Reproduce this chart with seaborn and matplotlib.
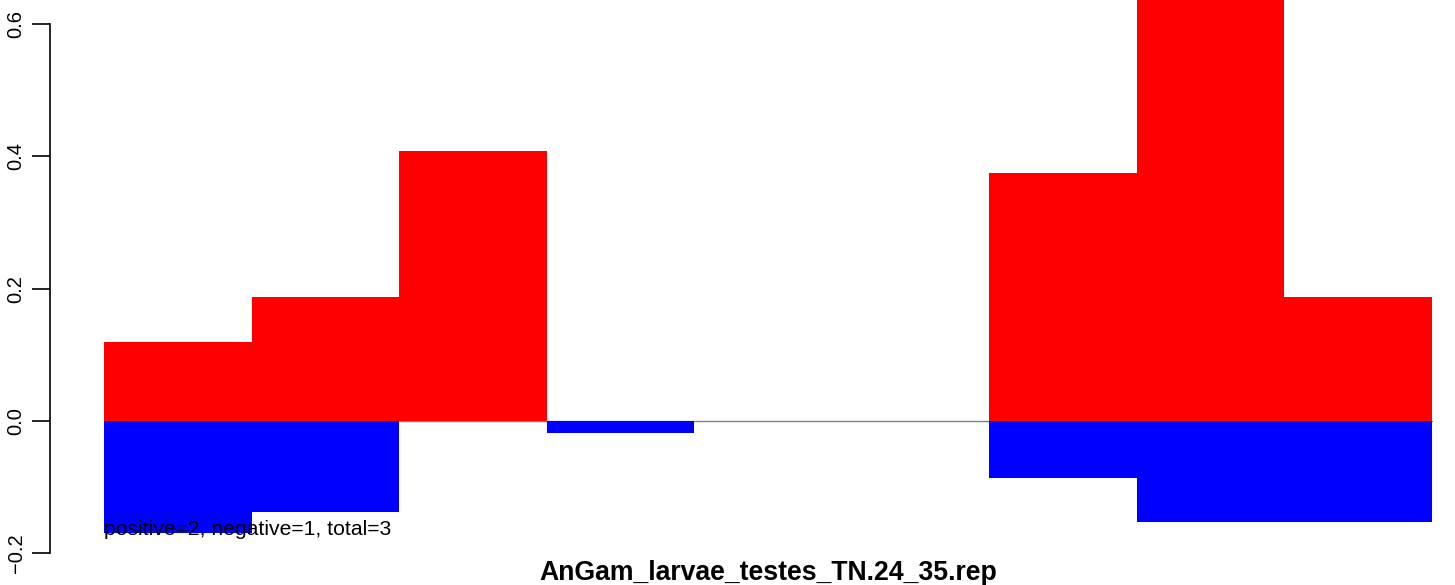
import numpy as np
import pandas as pd
import seaborn as sns
import matplotlib
matplotlib.use("Agg")
import matplotlib.pyplot as plt

# bin values
bins = ["b1", "b2", "b3", "b4", "b5", "b6", "b7", "b8", "b9"]
positive = [0.119, 0.187, 0.408, 0.0, 0.0, 0.0, 0.375, 0.66, 0.187]
negative = [-0.169, -0.137, 0.0, -0.018, 0.0, 0.0, -0.086, -0.153, -0.153]
yticks = [-0.2, 0.0, 0.2, 0.4, 0.6]
title = "AnGam_larvae_testes_TN.24_35.rep"
note = "positive=2, negative=1, total=3"

sns.set_style("white")
plt.rcParams["font.family"] = ["Liberation Sans", "DejaVu Sans"]
plt.rcParams["text.color"] = "black"
plt.rcParams["ytick.color"] = "black"
plt.rcParams["ytick.labelcolor"] = "black"

W, H = 1455, 585
fig = plt.figure(figsize=(W / 100, H / 100), dpi=100)
# axes spanning px x 50..1455, y 0..560
ax = fig.add_axes([50 / W, 1 - 560 / H, (W - 50) / W, 560 / H])

df = pd.DataFrame({"bin": bins, "pos": positive, "neg": negative})
sns.barplot(data=df, x="bin", y="pos", color="#ff0000", saturation=1,
            width=1.0, linewidth=0, ax=ax)
sns.barplot(data=df, x="bin", y="neg", color="#0000ff", saturation=1,
            width=1.0, linewidth=0, ax=ax)

# baseline across the bin range
ax.plot([-0.5, len(bins) - 0.5], [0, 0], color="#808080", lw=1, zorder=0.5)

bw = 147.55
ax.set_xlim(-0.5 - 54 / bw, -0.5 + (W - 104) / bw)
ppu = 662.0
ax.set_ylim(-(560 - 421) / ppu, 421 / ppu)

ax.set_xlabel("")
ax.set_ylabel("")
ax.set_xticks([])
ax.set_yticks(yticks)
ax.set_yticklabels(["\u22120.2", "0.0", "0.2", "0.4", "0.6"], rotation=90,
                   va="center", fontsize=14.5, color="black")
ax.tick_params(axis="y", left=True, length=13, width=1.2, pad=4.5, color="black")
for s in ["top", "right", "bottom"]:
    ax.spines[s].set_visible(False)
ax.spines["left"].set_bounds(-0.2, 0.6)
ax.spines["left"].set_color("black")
ax.spines["left"].set_linewidth(1.2)

ax.text(-0.5, -0.164, note, ha="left", va="center", fontsize=15.2, color="black")
fig.text(768 / W, 1 - 580 / H, title, ha="center", va="baseline",
         fontsize=19.2, fontweight="bold", color="black")

fig.savefig("out.png", dpi=100)
